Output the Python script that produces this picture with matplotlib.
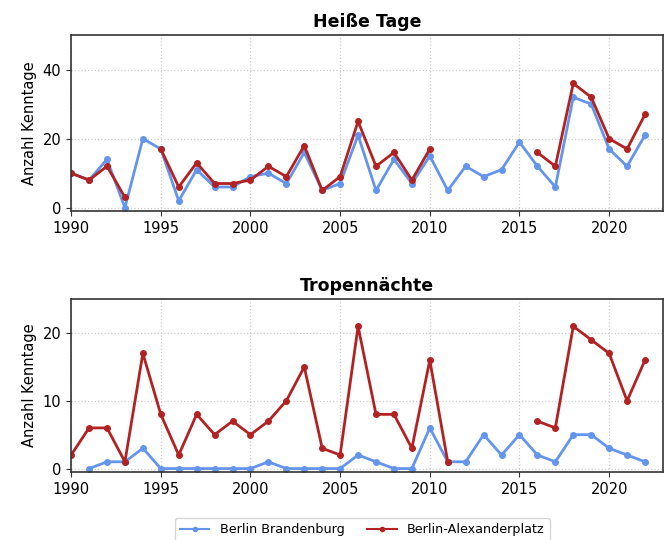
import numpy as np
import matplotlib
matplotlib.use('Agg')
import matplotlib.pyplot as plt
from matplotlib.lines import Line2D

nan = np.nan
years = list(range(1990, 2023))

# Heiße Tage (Tmax >= 30 °C)
heiss_bb = [10, 8, 14, 0, 20, 17, 2, 11, 6, 6, 9, 10, 7, 16, 5, 7, 21,
            5, 14, 7, 15, 5, 12, 9, 11, 19, 12, 6, 32, 30, 17, 12, 21]
heiss_alex = [10, 8, 12, 3, nan, 17, 6, 13, 7, 7, 8, 12, 9, 18, 5, 9, 25,
              12, 16, 8, 17, nan, nan, nan, nan, nan, 16, 12, 36, 32, 20, 17, 27]

# Tropennächte (Tmin >= 20 °C)
tropen_bb = [nan, 0, 1, 1, 3, 0, 0, 0, 0, 0, 0, 1, 0, 0, 0, 0, 2,
             1, 0, 0, 6, 1, 1, 5, 2, 5, 2, 1, 5, 5, 3, 2, 1]
tropen_alex = [2, 6, 6, 1, 17, 8, 2, 8, 5, 7, 5, 7, 10, 15, 3, 2, 21,
               8, 8, 3, 16, 1, nan, nan, nan, nan, 7, 6, 21, 19, 17, 10, 16]

BLUE = '#6495ED'
RED = '#B22222'

fig = plt.figure(figsize=(6.71, 5.4), dpi=100)
ax1 = fig.add_axes([0.106, 0.609, 0.882, 0.326])
ax2 = fig.add_axes([0.106, 0.126, 0.882, 0.320])

panels = [
    (ax1, 'Heiße Tage', heiss_bb, heiss_alex, (-1, 50), [0, 20, 40]),
    (ax2, 'Tropennächte', tropen_bb, tropen_alex, (-0.5, 25), [0, 10, 20]),
]

for ax, title, bb, alex, ylim, yticks in panels:
    ax.plot(years, bb, color=BLUE, marker='o', markersize=4, lw=2)
    ax.plot(years, alex, color=RED, marker='o', markersize=4, lw=2)
    ax.set_title(title, fontsize=12.5, fontweight='bold', pad=6)
    ax.set_ylabel('Anzahl Kenntage', fontsize=10.5)
    ax.set_xlim(1990, 2023)
    ax.set_ylim(*ylim)
    ax.set_xticks(range(1990, 2021, 5))
    ax.set_yticks(yticks)
    ax.tick_params(labelsize=10.5, color='#333333')
    ax.grid(True, color='#cccccc', linestyle=':', linewidth=0.9)
    for s in ax.spines.values():
        s.set_color('#333333')
        s.set_linewidth(1.2)

handles = [
    Line2D([], [], color=BLUE, marker='o', markersize=3, lw=1.5),
    Line2D([], [], color=RED, marker='o', markersize=3, lw=1.5),
]
fig.legend(handles, ['Berlin Brandenburg', 'Berlin-Alexanderplatz'],
           loc='upper center', bbox_to_anchor=(0.540, 0.052),
           ncol=2, fontsize=9.2, frameon=True, handlelength=2.3,
           columnspacing=1.8, borderpad=0.4)

fig.savefig('out.png', dpi=100)
